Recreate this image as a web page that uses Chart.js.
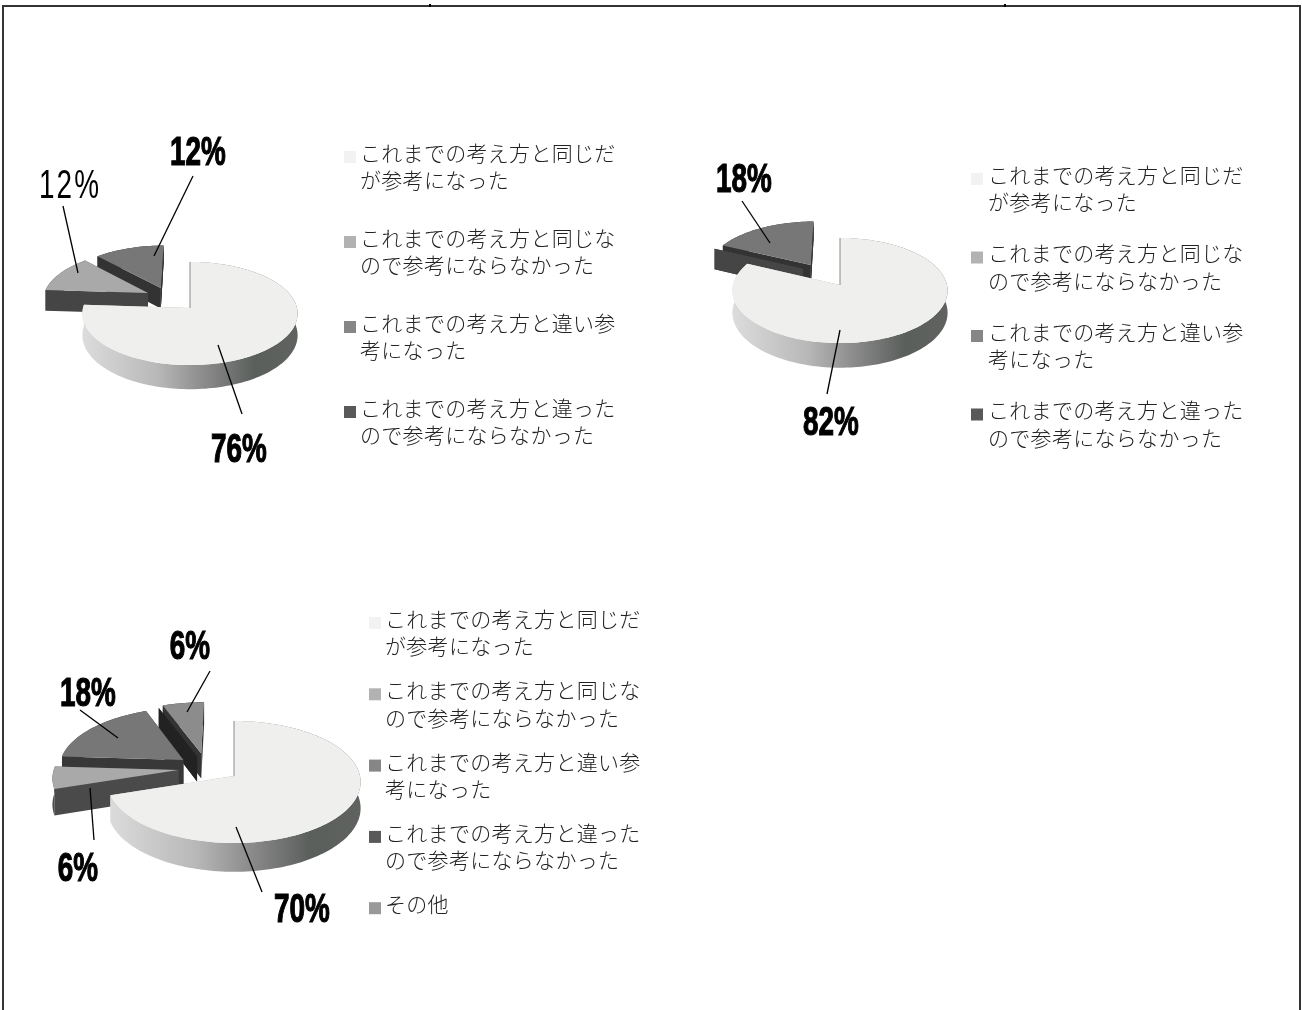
<!DOCTYPE html>
<html lang="ja">
<head>
<meta charset="utf-8">
<title>円グラフ</title>
<style>
html, body { margin: 0; padding: 0; background: #fff; overflow: hidden; }
#page { position: relative; width: 1302px; height: 1010px; }
#page canvas { position: absolute; left: 0; top: 0; }
#frame { position: absolute; left: 2px; top: 5px; width: 1295px; height: 1010px; border: 2px solid #333; border-bottom: 0; }
.tick { position: absolute; top: 4px; width: 2px; height: 3px; background: #000; }
</style>
<script src="https://cdn.jsdelivr.net/npm/chart.js@4"></script>
</head>
<body>
<div id="page">
  <div id="frame"></div>
  <div class="tick" style="left:429px"></div>
  <div class="tick" style="left:1004px"></div>
  <canvas id="pie1" width="1302" height="1010"></canvas>
  <canvas id="pie2" width="1302" height="1010"></canvas>
  <canvas id="pie3" width="1302" height="1010"></canvas>
</div>
<script>
// 回答の内訳(%)
var categories = [
    'これまでの考え方と同じだが参考になった',
    'これまでの考え方と同じなので参考にならなかった',
    'これまでの考え方と違い参考になった',
    'これまでの考え方と違ったので参考にならなかった',
    'その他'
];
var values1 = [76, 12, 12, 0];
var values2 = [82, 0, 18, 0];
var values3 = [70, 6, 18, 0, 6];

var legendLines = [
    ['これまでの考え方と同じだ', 'が参考になった'],
    ['これまでの考え方と同じな', 'ので参考にならなかった'],
    ['これまでの考え方と違い参', '考になった'],
    ['これまでの考え方と違った', 'ので参考にならなかった'],
    ['その他']
];

var topColors = ['#efefee', '#a9a9a9', '#777777', '#555555', '#8c8c8c'];
var swatchColors = ['#f2f2f2', '#b2b2b2', '#868686', '#595959', '#999999'];

// 図ごとの配置。cx,cyは主扇形の頂点、explodeは半径を1とした切り離し量
var layout1 = {
    cx: 190, cy: 308, radius: 107, squash: 51, persp: 0.107, depth: 21.5,
    explode: [[0, 0], [-0.405, -0.304], [-0.285, -0.409], [-0.285, -0.409]],
    walls: [null, '#454545', '#333333', '#333333'],
    labels: [[239, 451, true], [70, 187, false], [198, 154, true], null],
    leaders: [[218, 345, 242, 414], [78, 273, 63, 206], [154, 256, 193, 176], null],
    legend: { box: 344, text: 360, top: 151, pitch: 85, lineGap: 27.5 }
};

var layout2 = {
    cx: 840, cy: 285, radius: 107, squash: 52, persp: 0.105, depth: 22,
    explode: [[0, 0], [-0.36, -0.324], [-0.285, -0.4], [-0.285, -0.4]],
    walls: [null, '#454545', '#333333', '#333333'],
    labels: [[831, 424, true], null, [744, 181, true], null],
    leaders: [[840, 330, 827, 394], null, [770, 243, 742, 201], null],
    legend: { box: 971, text: 988, top: 173, pitch: 78.5, lineGap: 27.5 }
};

var layout3 = {
    cx: 234, cy: 776, radius: 126, squash: 60.4, persp: 0.098, depth: 26,
    explode: [[0, 0], [-0.445, -0.099], [-0.412, -0.272], [-0.303, -0.335], [-0.27, -0.387]],
    walls: [null, '#4a4a4a', '#383838', '#222222', '#333333'],
    labels: [[302, 911, true], [78, 870, true], [88, 695, true], null, [190, 648, true]],
    leaders: [[236, 827, 262, 892], [90, 788, 94, 840], [118, 738, 80, 710], null, [187, 712, 210, 671]],
    legend: { box: 369, text: 385, top: 617, pitch: 71.3, lineGap: 27.5 }
};

// 床面の座標(u,v)と高さhを透視投影する
function project(l, u, v, h) {
    var s = 1 / (1 - l.persp * v);
    return {
        x: l.cx + l.radius * u * s,
        y: l.cy + l.squash * v * s + (h || 0) * s
    };
}

function rimPoints(l, arc, index, h) {
    var off = l.explode[index];
    var steps = Math.max(1, Math.ceil((arc.endAngle - arc.startAngle) / 0.03));
    var pts = [];
    for (var i = 0; i <= steps; i++) {
        var a = arc.startAngle + (arc.endAngle - arc.startAngle) * i / steps;
        pts.push(project(l, off[0] + Math.cos(a), off[1] + Math.sin(a), h));
    }
    return pts;
}

function fillPoly(ctx, pts, color) {
    ctx.beginPath();
    pts.forEach(function(p, i) {
        if (i === 0) ctx.moveTo(p.x, p.y); else ctx.lineTo(p.x, p.y);
    });
    ctx.closePath();
    ctx.fillStyle = color;
    ctx.fill();
}

function rimGradient(ctx, l) {
    var g = ctx.createLinearGradient(l.cx - l.radius, 0, l.cx + l.radius, 0);
    g.addColorStop(0, '#dcdcdc');
    g.addColorStop(0.35, '#b8b8b8');
    g.addColorStop(0.55, '#8e8e8e');
    g.addColorStop(0.8, '#5b5f5c');
    g.addColorStop(1, '#5f625f');
    return g;
}

function drawSlice(ctx, l, arc, index) {
    var off = l.explode[index];
    var top = rimPoints(l, arc, index, 0);
    var bottom = rimPoints(l, arc, index, l.depth);
    var apexTop = project(l, off[0], off[1], 0);
    var apexBottom = project(l, off[0], off[1], l.depth);
    var wall = l.walls[index] || rimGradient(ctx, l);

    // 切り口の側面
    fillPoly(ctx, [apexTop, top[0], bottom[0], apexBottom], wall);
    fillPoly(ctx, [apexTop, top[top.length - 1], bottom[bottom.length - 1], apexBottom], wall);
    // 外周の側面
    fillPoly(ctx, top.concat(bottom.slice().reverse()), wall);
    // 上面(値が0なら面積なし)
    if (arc.endAngle - arc.startAngle > 0) {
        fillPoly(ctx, [apexTop].concat(top), arc.options.backgroundColor);
    }
    // 主扇形の始まりの細い線
    if (index === 0) {
        ctx.strokeStyle = '#8a8a8a';
        ctx.lineWidth = 1;
        ctx.beginPath();
        ctx.moveTo(apexTop.x, apexTop.y);
        ctx.lineTo(top[0].x, top[0].y);
        ctx.stroke();
    }
}

function drawPercent(ctx, text, x, y, bold) {
    ctx.save();
    ctx.translate(x, y);
    ctx.textAlign = 'center';
    ctx.textBaseline = 'middle';
    ctx.fillStyle = '#000';
    if (bold) {
        ctx.scale(0.68, 1);
        ctx.font = 'bold 41px "Liberation Sans"';
        ctx.strokeStyle = '#000';
        ctx.lineWidth = 1.2;
        ctx.strokeText(text, 0, 0);
    } else {
        ctx.scale(0.68, 1);
        ctx.font = '41px "Liberation Sans"';
        ctx.letterSpacing = '3px';
    }
    ctx.fillText(text, 0, 0);
    ctx.restore();
}

var pie3d = {
    id: 'pie3d',
    beforeDatasetDraw: function(chart) {
        var l = chart.options.plugins.pie3d.layout;
        var arcs = chart.getDatasetMeta(0).data;
        // 奥の扇形から順に描く
        for (var i = arcs.length - 1; i >= 0; i--) {
            drawSlice(chart.ctx, l, arcs[i], i);
        }
        return false;
    },
    afterDraw: function(chart) {
        var ctx = chart.ctx;
        var l = chart.options.plugins.pie3d.layout;
        var values = chart.data.datasets[0].data;

        // 引き出し線と割合
        values.forEach(function(v, i) {
            var leader = l.leaders[i];
            var label = l.labels[i];
            if (!v || !leader) return;
            ctx.strokeStyle = '#000';
            ctx.lineWidth = 1.3;
            ctx.beginPath();
            ctx.moveTo(leader[0], leader[1]);
            ctx.lineTo(leader[2], leader[3]);
            ctx.stroke();
            drawPercent(ctx, v + '%', label[0], label[1], label[2]);
        });

        // 凡例
        var lg = l.legend;
        ctx.textAlign = 'left';
        ctx.textBaseline = 'middle';
        ctx.font = '300 21px "Noto Sans CJK JP"';
        ctx.letterSpacing = '0.3px';
        values.forEach(function(v, i) {
            var y = lg.top + lg.pitch * i;
            ctx.fillStyle = swatchColors[i];
            ctx.fillRect(lg.box, y, 12, 12);
            ctx.fillStyle = '#222';
            legendLines[i].forEach(function(line, j) {
                ctx.fillText(line, lg.text, y + 2 + j * lg.lineGap);
            });
        });
        ctx.letterSpacing = '0px';
    }
};

function makePie(id, values, layout) {
    return new Chart(document.getElementById(id), {
        type: 'pie',
        data: {
            labels: categories.slice(0, values.length),
            datasets: [{
                data: values,
                backgroundColor: topColors.slice(0, values.length),
                borderWidth: 0
            }]
        },
        options: {
            responsive: false,
            animation: false,
            events: [],
            plugins: {
                legend: { display: false },
                tooltip: { enabled: false },
                pie3d: { layout: layout }
            }
        },
        plugins: [pie3d]
    });
}

makePie('pie1', values1, layout1);
makePie('pie2', values2, layout2);
makePie('pie3', values3, layout3);
</script>
</body>
</html>
